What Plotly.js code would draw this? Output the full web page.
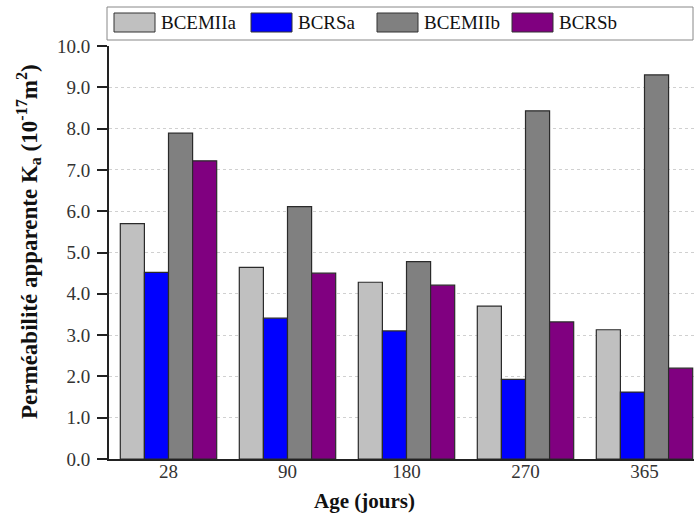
<!DOCTYPE html>
<html>
<head>
<meta charset="utf-8">
<script src="https://cdn.plot.ly/plotly-3.0.1.min.js"></script>
<style>html,body{margin:0;padding:0;background:#fff;}#chart{width:694px;height:517px;}</style>
</head>
<body>
<div id="chart"></div>
<script>
const categories = ["28", "90", "180", "270", "365"];
const seriesNames = ["BCEMIIa", "BCRSa", "BCEMIIb", "BCRSb"];
const BCEMIIa = [5.70, 4.64, 4.28, 3.70, 3.13];
const BCRSa   = [4.52, 3.41, 3.10, 1.93, 1.62];
const BCEMIIb = [7.89, 6.11, 4.78, 8.43, 9.30];
const BCRSb   = [7.22, 4.50, 4.21, 3.32, 2.20];
const yTicks = [0,1,2,3,4,5,6,7,8,9,10];
const yTickText = yTicks.map(v => v.toFixed(1));

const colors = ["#C0C0C0", "#0000FF", "#808080", "#800080"];
const values = [BCEMIIa, BCRSa, BCEMIIb, BCRSb];
const serif = "Liberation Serif, Times New Roman, serif";

const traces = values.map((v, i) => ({
  type: "bar",
  name: seriesNames[i],
  x: categories,
  y: v,
  marker: {color: colors[i], line: {color: "#2a2a2a", width: 1.2}},
  showlegend: false,
  hoverinfo: "x+y+name"
}));

// Custom legend (box + swatches + labels) in paper coordinates
const W = 585, H = 413; // plot area px
const px = x => (x - 109) / W;
const py = y => (459 - y) / H;
const shapes = [{
  type: "rect", xref: "paper", yref: "paper",
  x0: px(107), x1: px(693), y0: py(40), y1: py(7),
  line: {color: "#888888", width: 1}, fillcolor: "#ffffff"
}];
const annotations = [];
const swX = [114, 251, 377, 512];
seriesNames.forEach((n, i) => {
  shapes.push({
    type: "rect", xref: "paper", yref: "paper",
    x0: px(swX[i]), x1: px(swX[i] + 41), y0: py(32), y1: py(13),
    line: {color: "#333333", width: 1}, fillcolor: colors[i]
  });
  annotations.push({
    xref: "paper", yref: "paper", x: px(swX[i] + 45), y: py(22.5),
    xanchor: "left", yanchor: "middle", showarrow: false,
    text: n, font: {family: serif, size: 19, color: "#111"}
  });
});
annotations.push({
  xref: "paper", yref: "paper", x: px(364), y: py(501),
  xanchor: "center", yanchor: "middle", showarrow: false,
  text: "<b>Age (jours)</b>", font: {family: serif, size: 21, color: "#111"}
});
annotations.push({
  xref: "paper", yref: "paper", x: px(29), y: py(242),
  xanchor: "center", yanchor: "middle", showarrow: false, textangle: -90,
  text: "<b>Perméabilité apparente K<sub>a</sub> (10<sup>-17</sup>m<sup>2</sup>)</b>",
  font: {family: serif, size: 23, color: "#111"}
});

const layout = {
  width: 694, height: 517,
  margin: {l: 109, r: 0, t: 46, b: 58},
  paper_bgcolor: "#ffffff", plot_bgcolor: "#ffffff",
  barmode: "group", bargap: 0.19, bargroupgap: 0,
  font: {family: serif, color: "#111"},
  xaxis: {
    type: "category", range: [-0.5, 4.416],
    showline: true, linecolor: "#222", linewidth: 2,
    ticks: "", showgrid: false, zeroline: false,
    ticklabelstandoff: -6,
    tickfont: {family: serif, size: 19, color: "#333"}
  },
  yaxis: {
    range: [0, 10], tickvals: yTicks, ticktext: yTickText,
    showline: true, linecolor: "#222", linewidth: 2,
    ticks: "outside", ticklen: 10, tickwidth: 2, tickcolor: "#222",
    ticklabelstandoff: 3,
    showgrid: true, gridcolor: "#d0d0d0", griddash: "dot", gridwidth: 1,
    zeroline: false,
    tickfont: {family: serif, size: 19, color: "#333"}
  },
  shapes: shapes,
  annotations: annotations,
  showlegend: false
};

Plotly.newPlot("chart", traces, layout, {displayModeBar: false, staticPlot: true});
</script>
</body>
</html>
